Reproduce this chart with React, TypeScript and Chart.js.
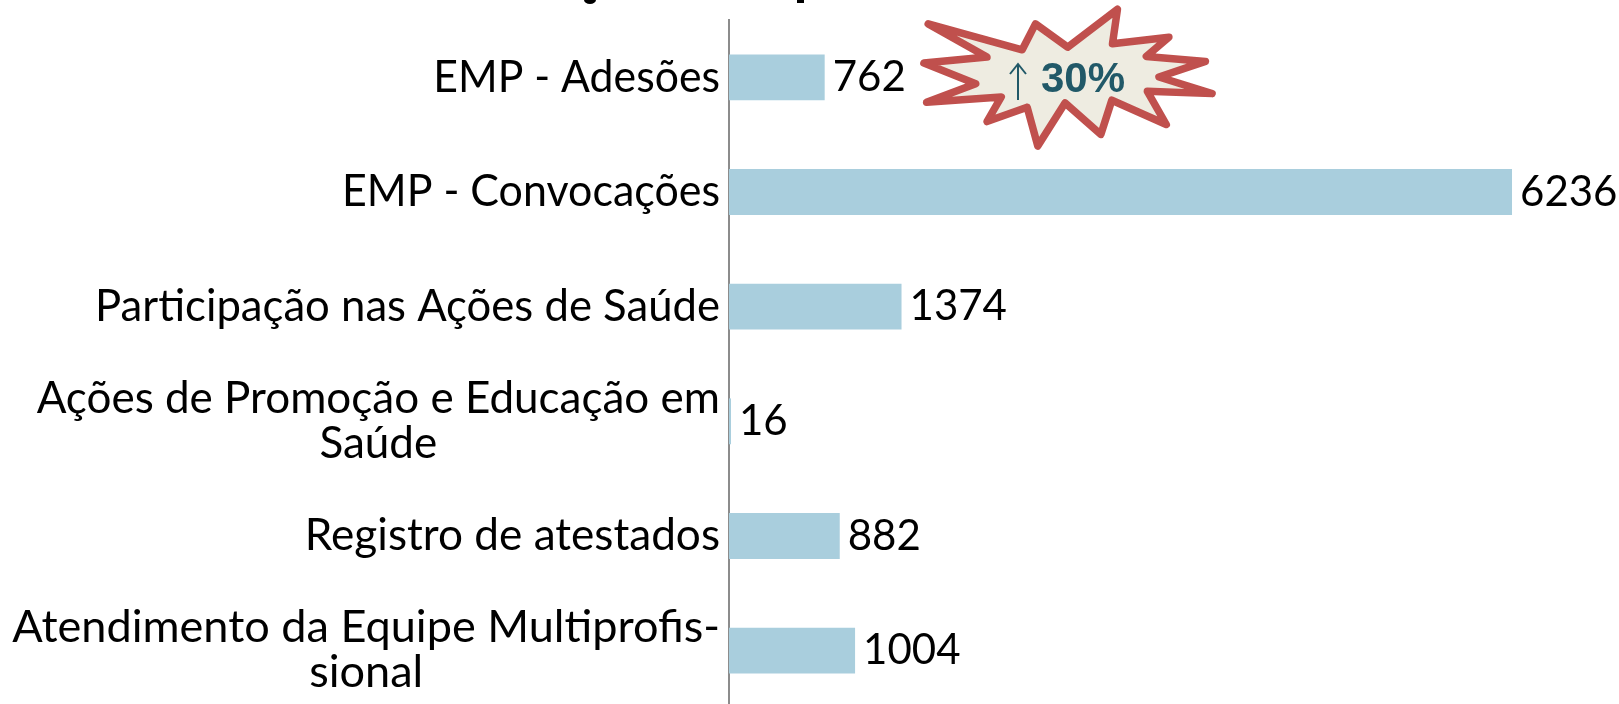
import React, { useEffect, useRef } from "react";
import { Chart, registerables } from "chart.js";

Chart.register(...registerables);

const categories: string[][] = [
  ["EMP - Adesões"],
  ["EMP - Convocações"],
  ["Participação nas Ações de Saúde"],
  ["Ações de Promoção e Educação em", "Saúde"],
  ["Registro de atestados"],
  ["Atendimento da Equipe Multiprofis-", "sional"],
];
const values = [762, 6236, 1374, 16, 882, 1004];
const labelStretch = [0.972, 0.976, 0.992, 1, 1.003, 1.024];

const FONT = "Lato, Carlito, Calibri, sans-serif";

const starOutline = [
  [85, 72], [368, 150], [408, 72], [505, 142], [655, 28], [640, 132], [810, 112], [742, 170],
  [920, 185], [780, 232], [940, 282], [745, 275], [802, 375], [638, 302], [605, 405], [497, 310],
  [415, 440], [383, 323], [262, 366], [305, 292], [80, 308], [228, 252], [72, 190], [262, 172],
];

const overlay = {
  id: "overlay",
  afterDraw(chart: any) {
    const ctx = chart.ctx as CanvasRenderingContext2D;
    const meta = chart.getDatasetMeta(0);
    const yScale = chart.scales.y;
    ctx.save();

    // Bottoms of the cropped title's descenders at the top edge of the picture.
    ctx.fillStyle = "#000";
    ctx.beginPath();
    ctx.ellipse(590, 0, 6, 4, 0, 0, Math.PI * 2);
    ctx.fill();
    ctx.fillRect(797, 0, 7, 3);

    ctx.textBaseline = "middle";

    // Category labels: block right-aligned at the axis, lines centred within the block.
    ctx.font = `44px ${FONT}`;
    ctx.textAlign = "center";
    const right = yScale.right - 9;
    const lineHeight = 45;
    categories.forEach((lines, i) => {
      const sx = labelStretch[i];
      const widest = Math.max(...lines.map((l) => ctx.measureText(l).width)) * sx;
      const cx = right - widest / 2;
      const cy = yScale.getPixelForTick(i);
      lines.forEach((l, k) => {
        ctx.save();
        ctx.translate(cx, cy + (k - (lines.length - 1) / 2) * lineHeight);
        ctx.scale(sx, 1);
        ctx.fillText(l, 0, 0);
        ctx.restore();
      });
    });

    // Value labels
    ctx.font = `42px ${FONT}`;
    ctx.textAlign = "left";
    meta.data.forEach((bar: any, i: number) => {
      ctx.fillText(String(values[i]), bar.x + 8, bar.y);
    });

    // Starburst callout
    ctx.beginPath();
    starOutline.forEach(([x, y], i) => {
      const px = 900 + x / 3.012;
      const py = y / 3.012;
      if (i === 0) ctx.moveTo(px, py);
      else ctx.lineTo(px, py);
    });
    ctx.closePath();
    ctx.fillStyle = "#EEECE1";
    ctx.strokeStyle = "#C0504D";
    ctx.lineWidth = 7.5;
    ctx.lineJoin = "round";
    ctx.fill();
    ctx.stroke();
    ctx.fillStyle = "#215968";
    ctx.font = `bold 42px "Liberation Sans", Arial, sans-serif`;
    ctx.textBaseline = "alphabetic";
    ctx.fillText("30%", 1041, 92);
    ctx.strokeStyle = "#215968";
    ctx.lineWidth = 2;
    ctx.lineJoin = "miter";
    ctx.beginPath();
    ctx.moveTo(1018, 100);
    ctx.lineTo(1018, 64);
    ctx.moveTo(1010, 74);
    ctx.lineTo(1018, 64);
    ctx.lineTo(1026, 74);
    ctx.stroke();
    ctx.restore();
  },
};

export default function App() {
  const ref = useRef<HTMLCanvasElement>(null);
  useEffect(() => {
    const chart = new Chart(ref.current!, {
      type: "bar",
      data: {
        labels: categories.map((l) => l.join(" ")),
        datasets: [
          {
            data: values,
            backgroundColor: "#A9CEDD",
            barPercentage: 0.8,
            categoryPercentage: 0.5,
          },
        ],
      },
      options: {
        indexAxis: "y",
        animation: false,
        responsive: false,
        layout: { padding: { top: 20, right: 0, bottom: 0, left: 0 } },
        plugins: { legend: { display: false }, tooltip: { enabled: false } },
        scales: {
          x: { display: false, min: 0, max: 7088 },
          y: {
            afterFit(scale: any) {
              scale.width = 729;
            },
            grid: { display: false, drawTicks: false },
            border: { display: true, color: "#8C8C8C", width: 2 },
            ticks: { display: false },
          },
        },
      },
      plugins: [overlay],
    } as any);
    return () => chart.destroy();
  }, []);
  return (
    <div style={{ position: "fixed", left: 0, top: 0, width: 1619, height: 704, overflow: "hidden", background: "#fff" }}>
      <canvas ref={ref} width={1619} height={708} style={{ display: "block", width: 1619, height: 708 }} />
    </div>
  );
}
